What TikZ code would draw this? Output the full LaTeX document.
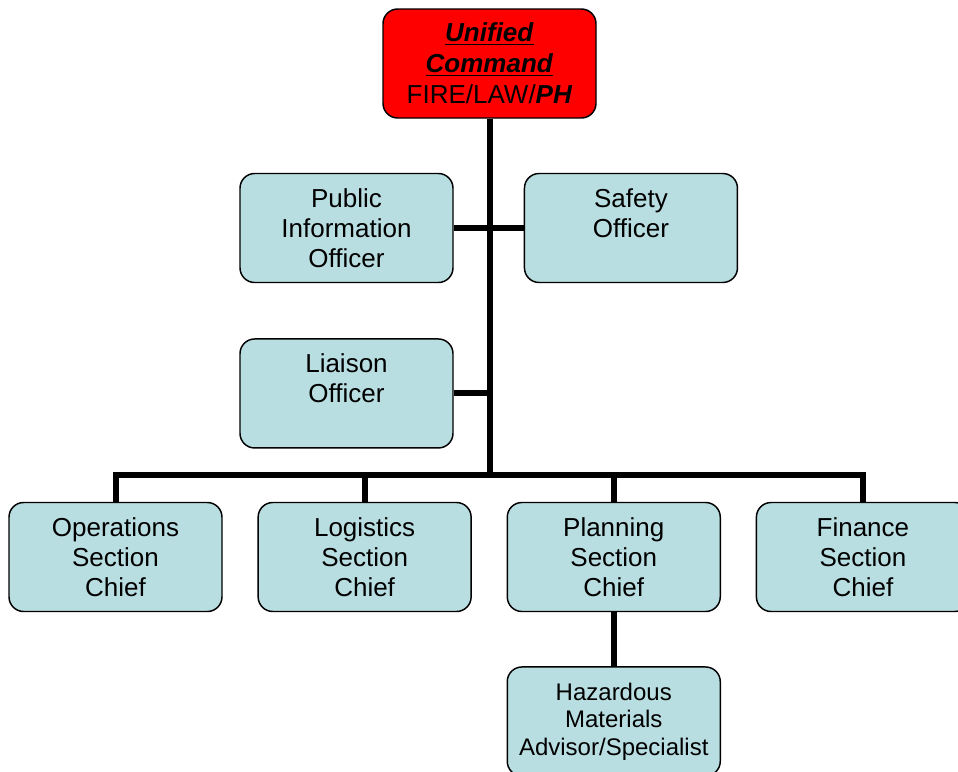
\documentclass[tikz,border=0pt]{standalone}
\usepackage{fontspec}
\setmainfont{Liberation Sans}
\usetikzlibrary{positioning}

\definecolor{boxblue}{RGB}{185,222,225}
\definecolor{cmdred}{RGB}{255,0,0}

\begin{document}
\begin{tikzpicture}[
  x=0.75pt, y=-0.75pt,
  box/.style={draw, line width=1.1pt, rounded corners=11pt, minimum width=159.75pt, minimum height=81.75pt, fill=boxblue, align=center, inner sep=0pt, font=\fontsize{19.5}{22.5}\selectfont},
  cmdbox/.style={box, fill=cmdred, font=\fontsize{19.5}{23.25}\selectfont},
  smallbox/.style={box, font=\fontsize{18}{20.6}\selectfont},
  link/.style={line width=4.5pt},
]
\useasboundingbox (0,0) rectangle (958,772);

% Command
\node[cmdbox] (uc) at (489.5,63.5) {\underline{\textbf{\textit{Unified}}}\\\underline{\textbf{\textit{Command}}}\\FIRE/LAW/\textbf{\textit{PH}}};

% Command staff
\node[box] (pio) at (346.5,228) {Public\\Information\\Officer};
\node[box, right=52.5pt of pio] (safety) {Safety\\Officer\\\mbox{}};
\node[box, below=41.25pt of pio] (liaison) {Liaison\\Officer\\\mbox{}};

% General staff
\node[box] (ops) at (115.5,557) {Operations\\Section\\Chief};
\node[box, right=26pt of ops] (logistics) {Logistics\\Section\\Chief};
\node[box, right=26pt of logistics] (planning) {Planning\\Section\\Chief};
\node[box, right=26pt of planning] (finance) {Finance\\Section\\Chief};

% Specialist
\node[smallbox, below=40.5pt of planning] (hazmat) {Hazardous\\Materials\\Advisor/Specialist};

% Lines
\coordinate (bus) at ([yshift=20.25pt]ops.north);
\draw[link] (uc.south) -- (uc.south |- bus);
\draw[link] (pio.east) -- (safety.west);
\draw[link] (liaison.east) -- (liaison.east -| uc.south);
\draw[link] (ops.north) -- (bus) -| (finance.north);
\draw[link] (logistics.north) -- (logistics.north |- bus);
\draw[link] (planning.north) -- (planning.north |- bus);
\draw[link] (planning.south) -- (hazmat.north);

\end{tikzpicture}
\end{document}
